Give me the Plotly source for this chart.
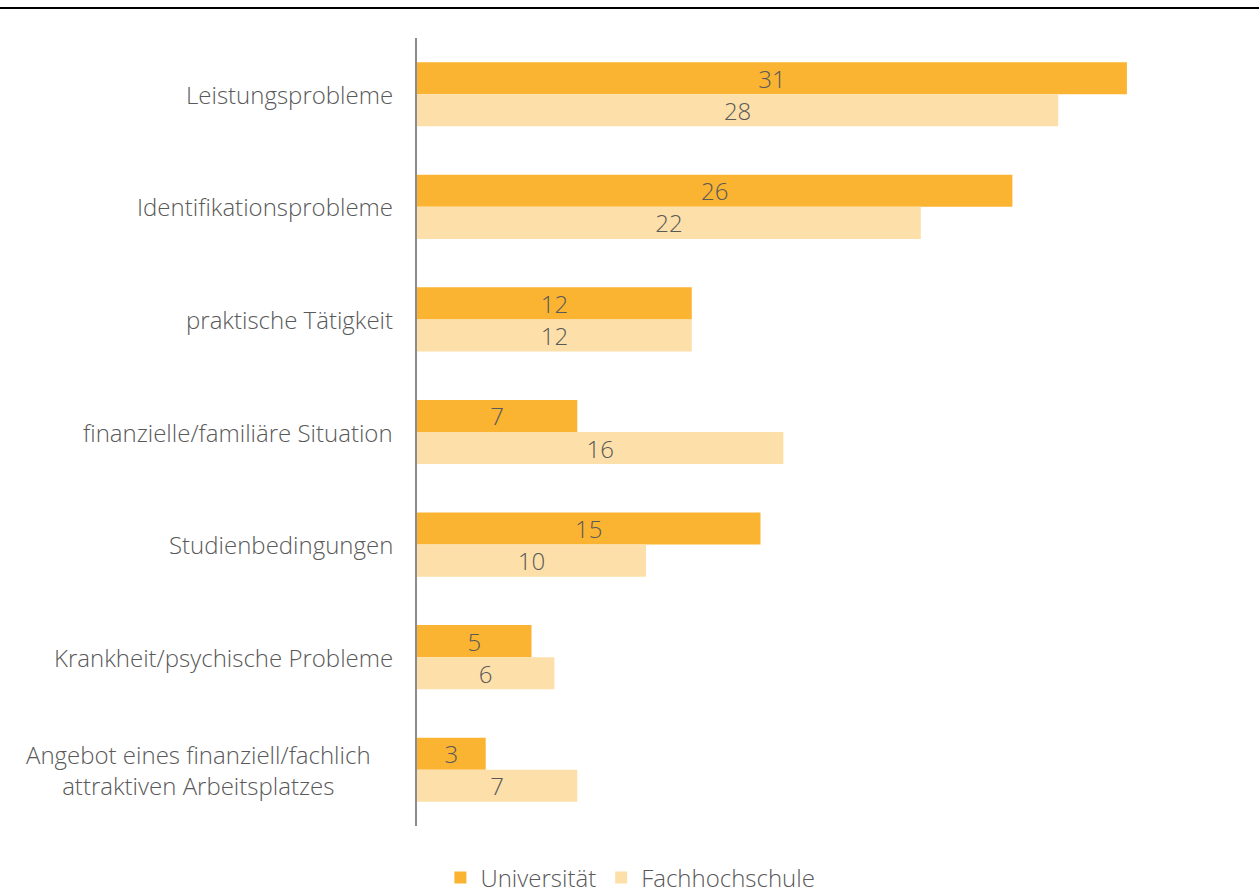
import plotly.graph_objects as go

categories = [
    "Leistungsprobleme",
    "Identifikationsprobleme",
    "praktische Tätigkeit",
    "finanzielle/familiäre Situation",
    "Studienbedingungen",
    "Krankheit/psychische Probleme",
    "Angebot eines finanziell/fachlich<br>attraktiven Arbeitsplatzes",
]
universitaet = [31, 26, 12, 7, 15, 5, 3]
fachhochschule = [28, 22, 12, 16, 10, 6, 7]

W, H = 1259, 890
ML, MR, MT, MB = 417, 2, 38, 64
PW, PH = W - ML - MR, H - MT - MB

TEXT = "#595959"
FONT = "Open Sans"
FS = 24

fig = go.Figure()
for name, vals, color in [
    ("Universität", universitaet, "#FAB432"),
    ("Fachhochschule", fachhochschule, "#FDE0A9"),
]:
    fig.add_trace(go.Bar(
        y=categories, x=vals, name=name, orientation="h",
        marker=dict(color=color, line=dict(width=0)),
        text=[str(v) for v in vals], textposition="inside",
        insidetextanchor="middle", textangle=0, constraintext="none",
        textfont=dict(family=FONT, size=FS, color=TEXT, weight=300),
        cliponaxis=False,
    ))

# category labels drawn as annotations so multi-line labels stay centred
annotations = []
for cat in categories:
    annotations.append(dict(
        x=0, xref="paper", y=cat, yref="y", xanchor="right", yanchor="middle",
        xshift=-22 if "<br>" not in cat else -44, text=cat, showarrow=False,
        align="center",
        font=dict(family=FONT, size=FS, color=TEXT, weight=300),
    ))

fig.update_layout(
    width=W, height=H,
    margin=dict(l=ML, r=MR, t=MT, b=MB),
    paper_bgcolor="white", plot_bgcolor="white",
    barmode="group", bargap=0.43, bargroupgap=0,
    uniformtext=dict(mode=False),
    showlegend=True,
    legend=dict(
        orientation="h", xref="container", yref="container",
        x=0.5007, xanchor="center", y=(H - 878) / H, yanchor="middle",
        font=dict(family=FONT, size=FS, color=TEXT, weight=300),
        itemwidth=30, traceorder="normal",
    ),
    xaxis=dict(range=[0, PW / 22.9], visible=False, fixedrange=True),
    yaxis=dict(
        autorange="reversed", showticklabels=False, showgrid=False,
        zeroline=False, showline=True, linecolor="#8c8c8c", linewidth=2,
        ticks="",
    ),
    annotations=annotations,
    shapes=[dict(
        type="line", xref="paper", yref="paper",
        x0=-ML / PW, x1=(W - ML) / PW,
        y0=(H - MB - 8) / PH, y1=(H - MB - 8) / PH,
        line=dict(color="black", width=2),
    )],
)

fig.write_html("out.html")
